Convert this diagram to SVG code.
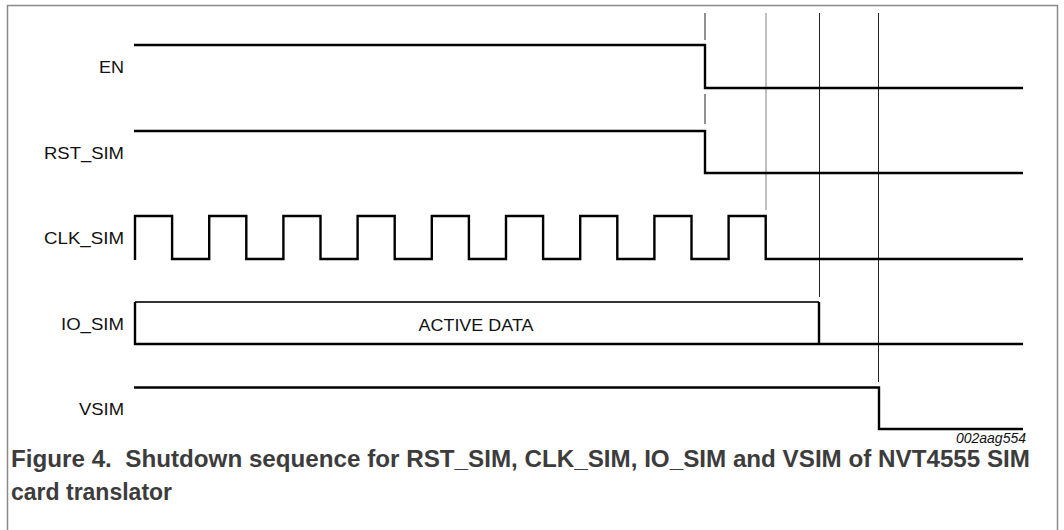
<svg xmlns="http://www.w3.org/2000/svg" width="1064" height="530" viewBox="0 0 1064 530">
  <style>
    .sig { fill: none; stroke: #000; stroke-width: 2.4; stroke-linejoin: miter; stroke-linecap: butt; }
    .mark { fill: none; stroke: #222; stroke-width: 1; }
    .lbl { font-family: "Liberation Sans", Arial, sans-serif; font-size: 17px; fill: #111; text-anchor: end; }
    .cap { font-family: "Liberation Sans", Arial, sans-serif; font-size: 23px; font-weight: bold; fill: #3c3c3c; }
  </style>
  <rect x="0" y="0" width="1064" height="530" fill="#fff"/>
  <path d="M7.5 530 V5.5 H1057.5 V530" fill="none" stroke="#8a8a8a" stroke-width="1.5"/>

  <g id="markers">
    <line class="mark" x1="705" y1="13" x2="705" y2="40"/>
    <line class="mark" x1="705" y1="94" x2="705" y2="124"/>
    <line class="mark" x1="766" y1="13" x2="766" y2="210" style="stroke:#808080"/>
    <line class="mark" x1="819.5" y1="13" x2="819.5" y2="297"/>
    <line class="mark" x1="878.5" y1="13" x2="878.5" y2="382"/>
  </g>

  <g id="EN">
    <text class="lbl" x="124" y="73" textLength="25" lengthAdjust="spacingAndGlyphs">EN</text>
    <path class="sig" d="M134 45 H705 V88 H1023"/>
  </g>
  <g id="RST_SIM">
    <text class="lbl" x="124" y="159" textLength="80" lengthAdjust="spacingAndGlyphs">RST_SIM</text>
    <path class="sig" d="M134 131 H705 V173 H1023"/>
  </g>
  <g id="CLK_SIM">
    <text class="lbl" x="124" y="244" textLength="80" lengthAdjust="spacingAndGlyphs">CLK_SIM</text>
    <path class="sig" d="M135 260 V216 H172.1 V259 H209.2 V216 H246.3 V259 H283.4 V216 H320.5 V259 H357.6 V216 H394.7 V259 H431.8 V216 H468.9 V259 H506 V216 H543.1 V259 H580.2 V216 H617.3 V259 H654.4 V216 H691.5 V259 H728.6 V216 H765.7 V259 H1023"/>
  </g>
  <g id="IO_SIM">
    <text class="lbl" x="124" y="330" textLength="63" lengthAdjust="spacingAndGlyphs">IO_SIM</text>
    <path d="M135 302 H819" fill="none" stroke="#333" stroke-width="1.8"/>
    <path class="sig" d="M135 302 V344 H1023 M819 302 V344"/>
    <text x="476" y="331" font-family="Liberation Sans, Arial, sans-serif" font-size="16.5" fill="#111" text-anchor="middle" textLength="115" lengthAdjust="spacingAndGlyphs">ACTIVE DATA</text>
  </g>
  <g id="VSIM">
    <text class="lbl" x="124" y="415" textLength="45" lengthAdjust="spacingAndGlyphs">VSIM</text>
    <path class="sig" d="M134 387.5 H879 V429 H1023"/>
  </g>

  <text x="1026" y="443" font-family="Liberation Sans, Arial, sans-serif" font-size="14" font-style="italic" fill="#111" text-anchor="end">002aag554</text>

  <g id="caption">
    <text class="cap" x="11" y="467" textLength="1019" lengthAdjust="spacingAndGlyphs" xml:space="preserve">Figure 4.  Shutdown sequence for RST_SIM, CLK_SIM, IO_SIM and VSIM of NVT4555 SIM</text>
    <text class="cap" x="11" y="500">card translator</text>
  </g>
</svg>
